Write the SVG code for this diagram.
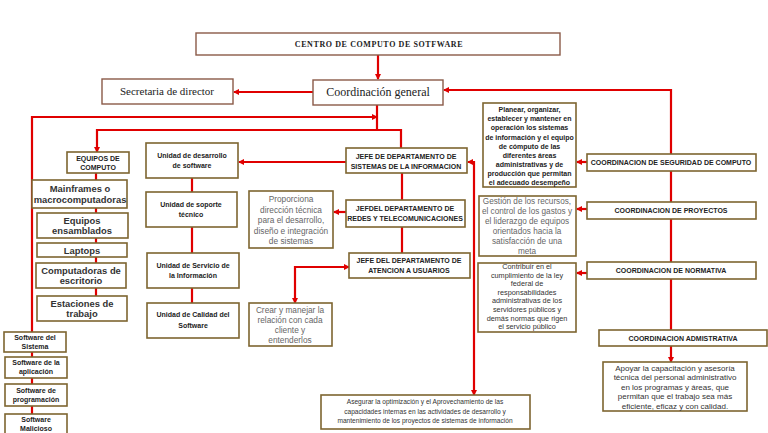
<svg xmlns="http://www.w3.org/2000/svg" width="768" height="433" viewBox="0 0 768 433">
<defs>
<marker id="ah" markerWidth="6" markerHeight="6" refX="5" refY="3" orient="auto" markerUnits="userSpaceOnUse">
<path d="M0,0 L6,3 L0,6 z" fill="#e00000"/>
</marker>
<marker id="as" markerWidth="6" markerHeight="6" refX="1" refY="3" orient="auto" markerUnits="userSpaceOnUse">
<path d="M6,0 L0,3 L6,6 z" fill="#e00000"/>
</marker>
<style>
.b{fill:#fff;stroke:#7d6530;stroke-width:1.6}
.bt{fill:#fff;stroke:#8a5a48;stroke-width:1.4}
.c{fill:none;stroke:#e00000;stroke-width:2.2}
.ser{font-family:"Liberation Serif",serif;fill:#222;text-anchor:middle}
.lb{font-family:"Liberation Sans",Arial,sans-serif;font-weight:bold;font-size:7px;fill:#222;text-anchor:middle}
.lg{font-family:"Liberation Sans",Arial,sans-serif;font-weight:bold;font-size:9.4px;fill:#333;text-anchor:middle}
.d{font-family:"Liberation Sans",Arial,sans-serif;fill:#666;text-anchor:middle}
.dk{font-family:"Liberation Sans",Arial,sans-serif;fill:#333;text-anchor:middle}
</style>
</defs>
<rect width="768" height="433" fill="#fff"/>
<g id="connectors">
<path class="c" d="M378,55 V79" marker-end="url(#ah)"/>
<path class="c" d="M313,92 H234" marker-end="url(#ah)"/>
<path class="c" d="M671,154 V90 H444" marker-end="url(#ah)"/>
<path class="c" d="M377,105 V130"/>
<path class="c" d="M401,148 V130 H97 V152" marker-end="url(#ah)"/>
<path class="c" d="M32,332 V117 H377" marker-end="url(#ah)"/>
<path class="c" d="M96,173 V180 M96,208 V213 M96,238 V243 M96,257 V263 M96,288 V296"/>
<path class="c" d="M32,352 V357 M32,378 V384 M32,406 V414"/>
<path class="c" d="M346,162 H239" marker-end="url(#ah)"/>
<path class="c" d="M192,178 V192 M192,227 V253 M192,288 V303"/>
<path class="c" d="M402,173 V200 M402,227 V253"/>
<path class="c" d="M346,212 H334" marker-end="url(#ah)"/>
<path class="c" d="M349,267 H295 V303" marker-start="url(#as)" marker-end="url(#ah)"/>
<path class="c" d="M468,162 H474 V395" marker-start="url(#as)" marker-end="url(#ah)"/>
<path class="c" d="M671,171 V202 M671,219 V262 M671,279 V330"/>
<path class="c" d="M587,162 H577" marker-end="url(#ah)"/>
<path class="c" d="M587,209 H577" marker-end="url(#ah)"/>
<path class="c" d="M587,273 H577" marker-end="url(#ah)"/>
<path class="c" d="M671,346 V362" marker-end="url(#ah)"/>
</g>
<g id="centro"><rect class="bt" x="196" y="33" width="364" height="22"/><text class="ser" x="379" y="47" font-size="8" font-weight="bold" letter-spacing="0.6">CENTRO DE COMPUTO DE SOTFWARE</text></g>
<g id="coordinacion"><rect class="bt" x="313" y="80" width="130" height="25"/><text class="ser" x="378" y="96" font-size="12">Coordinación general</text></g>
<g id="secretaria"><rect class="bt" x="102" y="79" width="131" height="25"/><text class="ser" x="167" y="95" font-size="11">Secretaria de director</text></g>
<g id="equipos"><rect class="b" x="67" y="152" width="62" height="21"/><text class="lb" x="98" y="161">EQUIPOS DE</text><text class="lb" x="98" y="170">COMPUTO</text></g>
<g id="mainframes"><rect class="b" x="32" y="180" width="95" height="28"/><text class="lg" x="80" y="192">Mainframes o</text><text class="lg" x="80" y="203">macrocomputadoras</text></g>
<g id="ensamblados"><rect class="b" x="37" y="213" width="91" height="25"/><text class="lg" x="82" y="224">Equipos</text><text class="lg" x="82" y="234">ensamblados</text></g>
<g id="laptops"><rect class="b" x="37" y="243" width="90" height="14"/><text class="lg" x="82" y="253.5">Laptops</text></g>
<g id="computadoras"><rect class="b" x="36" y="263" width="90" height="25"/><text class="lg" x="81" y="274">Computadoras de</text><text class="lg" x="81" y="284">escritorio</text></g>
<g id="estaciones"><rect class="b" x="37" y="296" width="90" height="25"/><text class="lg" x="82" y="307">Estaciones de</text><text class="lg" x="82" y="317">trabajo</text></g>
<g id="sw-sistema"><rect class="b" x="4" y="332" width="62" height="20"/><text class="lb" x="35" y="340">Software del</text><text class="lb" x="35" y="349">Sistema</text></g>
<g id="sw-aplicacion"><rect class="b" x="5" y="357" width="62" height="21"/><text class="lb" x="36" y="365">Software de la</text><text class="lb" x="36" y="374">aplicación</text></g>
<g id="sw-programacion"><rect class="b" x="5" y="384" width="62" height="22"/><text class="lb" x="36" y="393">Software de</text><text class="lb" x="36" y="402">programación</text></g>
<g id="sw-malicioso"><rect class="b" x="5" y="414" width="62" height="24"/><text class="lb" x="36" y="422">Software</text><text class="lb" x="36" y="431">Malicioso</text></g>
<g id="u-desarrollo"><rect class="b" x="146" y="143" width="92" height="35"/><text class="lb" x="192" y="158">Unidad de desarrollo</text><text class="lb" x="192" y="168">de software</text></g>
<g id="u-soporte"><rect class="b" x="146" y="192" width="91" height="35"/><text class="lb" x="191" y="207">Unidad de soporte</text><text class="lb" x="191" y="217">técnico</text></g>
<g id="u-servicio"><rect class="b" x="147" y="253" width="92" height="35"/><text class="lb" x="193" y="268">Unidad de Servicio de</text><text class="lb" x="193" y="278">la Información</text></g>
<g id="u-calidad"><rect class="b" x="147" y="303" width="92" height="35"/><text class="lb" x="193" y="317">Unidad  de Calidad del</text><text class="lb" x="193" y="328">Software</text></g>
<g id="jefe-sistemas"><rect class="b" x="346" y="148" width="121" height="25"/><text class="lb" x="406" y="159">JEFE DE DEPARTAMENTO DE</text><text class="lb" x="406" y="169">SISTEMAS DE LA INFORMACION</text></g>
<g id="jefe-redes"><rect class="b" x="346" y="200" width="119" height="27"/><text class="lb" x="405" y="211">JEFDEL DEPARTAMENTO DE</text><text class="lb" x="405" y="221">REDES Y TELECOMUNICACIONES</text></g>
<g id="jefe-atencion"><rect class="b" x="349" y="253" width="121" height="25"/><text class="lb" x="409" y="263">JEFE DEL DEPARTAMENTO DE</text><text class="lb" x="409" y="273">ATENCION A USUARIOS</text></g>
<g id="proporciona"><rect class="b" x="249" y="191" width="84" height="57"/><g class="d" font-size="8.3"><text x="291" y="202">Proporciona</text><text x="291" y="212.5">dirección técnica</text><text x="291" y="223">para el desarrollo,</text><text x="291" y="233.5">diseño e integración</text><text x="291" y="244">de sistemas</text></g></g>
<g id="crear"><rect class="b" x="249" y="303" width="83" height="43"/><g class="d" font-size="8.3"><text x="290" y="313">Crear y manejar la</text><text x="290" y="323">relación con cada</text><text x="290" y="333">cliente y</text><text x="290" y="343">entenderlos</text></g></g>
<g id="asegurar"><rect class="b" x="321" y="395" width="209" height="34"/><g class="dk" font-size="6.6"><text x="425" y="404">Asegurar la optimización y el Aprovechamiento de las</text><text x="425" y="413.5">capacidades internas en las actividades de desarrollo y</text><text x="425" y="423">mantenimiento de los proyectos de sistemas de información</text></g></g>
<g id="c-seguridad"><rect class="b" x="587" y="154" width="169" height="17"/><text class="lb" x="671" y="165">COORDINACION DE SEGURIDAD DE COMPUTO</text></g>
<g id="planear"><rect class="b" x="483" y="103" width="93" height="84"/><g class="lb" font-size="5.9"><text x="529.5" y="112">Planear, organizar,</text><text x="529.5" y="121.2">establecer y mantener en</text><text x="529.5" y="130.4">operación los sistemas</text><text x="529.5" y="139.6">de información y el equipo</text><text x="529.5" y="148.8">de cómputo de las</text><text x="529.5" y="158">diferentes áreas</text><text x="529.5" y="167.2">administrativas y de</text><text x="529.5" y="176.4">producción que permitan</text><text x="529.5" y="185">el adecuado desempeño</text></g></g>
<g id="c-proyectos"><rect class="b" x="587" y="202" width="169" height="17"/><text class="lb" x="671" y="213">COORDINACION DE PROYECTOS</text></g>
<g id="gestion"><rect class="b" x="479" y="196" width="97" height="60"/><g class="d" font-size="8.2"><text x="527" y="203.5">Gestión de los recursos,</text><text x="527" y="213.5">el control de los gastos y</text><text x="527" y="223.5">el liderazgo de equipos</text><text x="527" y="233.5">orientados hacia la</text><text x="527" y="243.5">satisfacción de una</text><text x="527" y="253.5">meta</text></g></g>
<g id="c-normativa"><rect class="b" x="587" y="262" width="169" height="17"/><text class="lb" x="671" y="273">COORDINACION DE NORMATIVA</text></g>
<g id="contribuir"><rect class="b" x="478" y="263" width="98" height="69"/><g class="dk" font-size="7.3"><text x="527" y="269">Contribuir en el</text><text x="527" y="277.6">cumplimiento de la ley</text><text x="527" y="286.2">federal de</text><text x="527" y="294.8">responsabilidades</text><text x="527" y="303.4">administrativas de los</text><text x="527" y="312">servidores públicos y</text><text x="527" y="320.6">demás normas que rigen</text><text x="527" y="329.2">el servicio público</text></g></g>
<g id="c-administrativa"><rect class="b" x="599" y="330" width="168" height="16"/><text class="lb" x="683" y="340.5">COORDINACION ADMISTRATIVA</text></g>
<g id="apoyar"><rect class="b" x="603" y="362" width="144" height="49"/><g class="dk" font-size="8"><text x="675" y="370.5">Apoyar la capacitación y asesoría</text><text x="675" y="380">técnica del personal administrativo</text><text x="675" y="389.5">en los programas y áreas, que</text><text x="675" y="399">permitan que el trabajo sea más</text><text x="675" y="408.5">eficiente, eficaz y con calidad.</text></g></g>
</svg>
